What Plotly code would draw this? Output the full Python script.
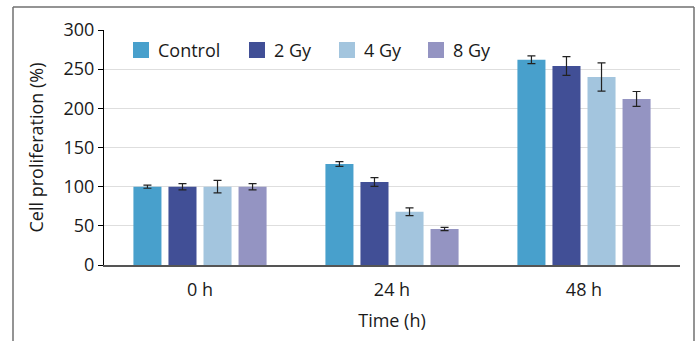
import plotly.graph_objects as go

categories = ["0 h", "24 h", "48 h"]
series_names = ["Control", "2 Gy", "4 Gy", "8 Gy"]
values = {
    "Control": [100, 129, 262],
    "2 Gy": [100, 106, 254],
    "4 Gy": [100, 68, 240],
    "8 Gy": [100, 46, 212],
}
errors = {
    "Control": [2, 3, 5],
    "2 Gy": [4, 5.5, 12],
    "4 Gy": [8, 5, 18],
    "8 Gy": [4, 2, 9.5],
}
colors = {"Control": "#48A0CC", "2 Gy": "#414F96", "4 Gy": "#A3C5DE", "8 Gy": "#9494C2"}
y_ticks = [0, 50, 100, 150, 200, 250, 300]

FONT = "Open Sans"
W, H = 696, 341
L, R, T, B = 104, 16, 30, 76
PW, PH = W - L - R, H - T - B

def px(x):
    return (x - L) / PW

def py(y):
    return (H - B - y) / PH

fig = go.Figure()
for name in series_names:
    fig.add_trace(go.Bar(
        x=categories, y=values[name], name=name,
        marker=dict(color=colors[name], line=dict(width=0)),
        error_y=dict(type="data", array=errors[name], color="#222222", thickness=1.2, width=4),
        showlegend=False,
    ))

fig.update_layout(
    width=W, height=H,
    margin=dict(l=L, r=R, t=T, b=B),
    paper_bgcolor="white", plot_bgcolor="white",
    barmode="group", bargap=0.27, bargroupgap=0.2,
    font=dict(family=FONT, size=18, color="#1a1a1a"),
    showlegend=False,
    xaxis=dict(showline=True, linecolor="#555555", linewidth=1.5, ticks="",
               ticklabelstandoff=8,
               title=dict(text="Time (h)", font=dict(size=18), standoff=14),
               tickfont=dict(size=18)),
    yaxis=dict(range=[0, 300], tickvals=y_ticks, showline=True, linecolor="#000000", linewidth=1,
               ticks="outside", ticklen=5, tickcolor="#000000",
               gridcolor="#dedede", gridwidth=1.2, zeroline=False,
               title=dict(text="Cell proliferation (%)", font=dict(size=18), standoff=15),
               tickfont=dict(size=18)),
)

# legend (swatch + label per series)
legend_swatch_x = [133, 249, 339, 428]
for name, sx in zip(series_names, legend_swatch_x):
    fig.add_shape(type="rect", xref="paper", yref="paper",
                  x0=px(sx), x1=px(sx + 16), y0=py(58), y1=py(42),
                  fillcolor=colors[name], line=dict(width=0))
    fig.add_annotation(xref="paper", yref="paper", x=px(sx + 23), y=py(50),
                       text=name, showarrow=False, xanchor="left", yanchor="middle",
                       font=dict(family=FONT, size=18, color="#1a1a1a"))

# outer frame (gray border, open at bottom)
frame = dict(type="line", xref="paper", yref="paper", line=dict(color="#707070", width=1.5))
fig.add_shape(**frame, x0=px(13), x1=px(13), y0=py(345), y1=py(7))
fig.add_shape(**frame, x0=px(13), x1=px(694), y0=py(7), y1=py(7))
fig.add_shape(**frame, x0=px(694), x1=px(694), y0=py(345), y1=py(7))

fig.write_html("out.html", config={"displayModeBar": False},
               post_script="document.body.style.margin='0';")
